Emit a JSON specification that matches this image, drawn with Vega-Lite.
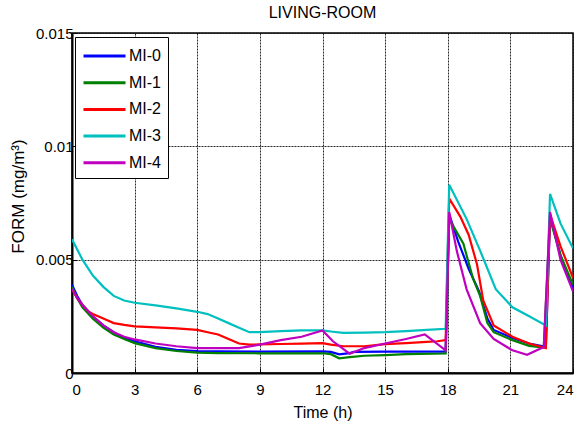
{
  "$schema": "https://vega.github.io/schema/vega-lite/v6.json",
  "width": 501,
  "height": 340,
  "autosize": {"type": "none"},
  "padding": {"left": 72, "top": 33, "right": 7, "bottom": 48},
  "background": "white",
  "title": {"text": "LIVING-ROOM", "fontSize": 16, "fontWeight": "normal", "font": "Liberation Sans", "color": "black", "offset": 5, "anchor": "middle"},
  "config": {
    "view": {"stroke": "black", "strokeWidth": 1.5},
    "font": "Liberation Sans",
    "axis": {"labelFont": "Liberation Sans", "titleFont": "Liberation Sans", "labelColor": "black", "titleColor": "black", "labelFontSize": 15, "titleFontSize": 16, "titleFontWeight": "normal", "domainColor": "black", "domainWidth": 2, "tickColor": "black", "gridColor": "#111", "gridDash": [2, 1], "gridWidth": 1, "gridOpacity": 0.9}
  },
  "data": {"values": [
    {"t":0,"s":"MI-0","v":0.0039},{"t":0.25,"s":"MI-0","v":0.0034},{"t":0.5,"s":"MI-0","v":0.0030},{"t":1,"s":"MI-0","v":0.0025},{"t":1.5,"s":"MI-0","v":0.0021},{"t":2,"s":"MI-0","v":0.0018},{"t":2.5,"s":"MI-0","v":0.00155},{"t":3,"s":"MI-0","v":0.0014},{"t":4,"s":"MI-0","v":0.00115},{"t":5,"s":"MI-0","v":0.00102},{"t":6,"s":"MI-0","v":0.00097},{"t":7,"s":"MI-0","v":0.00095},{"t":9,"s":"MI-0","v":0.00094},{"t":12,"s":"MI-0","v":0.00095},{"t":12.4,"s":"MI-0","v":0.00093},{"t":12.8,"s":"MI-0","v":0.00082},{"t":13.3,"s":"MI-0","v":0.00088},{"t":13.5,"s":"MI-0","v":0.00093},{"t":15,"s":"MI-0","v":0.00094},{"t":17.9,"s":"MI-0","v":0.00094},{"t":18.07,"s":"MI-0","v":0.0070},{"t":18.5,"s":"MI-0","v":0.0058},{"t":19,"s":"MI-0","v":0.0046},{"t":19.5,"s":"MI-0","v":0.0036},{"t":19.9,"s":"MI-0","v":0.0024},{"t":20.2,"s":"MI-0","v":0.0019},{"t":21.1,"s":"MI-0","v":0.00155},{"t":21.9,"s":"MI-0","v":0.0013},{"t":22.7,"s":"MI-0","v":0.00115},{"t":22.9,"s":"MI-0","v":0.0069},{"t":23.4,"s":"MI-0","v":0.0052},{"t":24,"s":"MI-0","v":0.0037},
    {"t":0,"s":"MI-1","v":0.0038},{"t":0.25,"s":"MI-1","v":0.0033},{"t":0.5,"s":"MI-1","v":0.0029},{"t":1,"s":"MI-1","v":0.0024},{"t":1.5,"s":"MI-1","v":0.0020},{"t":2,"s":"MI-1","v":0.0017},{"t":2.5,"s":"MI-1","v":0.0015},{"t":3,"s":"MI-1","v":0.00132},{"t":4,"s":"MI-1","v":0.0011},{"t":5,"s":"MI-1","v":0.00097},{"t":6,"s":"MI-1","v":0.0009},{"t":7,"s":"MI-1","v":0.00088},{"t":9,"s":"MI-1","v":0.00087},{"t":12,"s":"MI-1","v":0.00087},{"t":12.4,"s":"MI-1","v":0.00083},{"t":12.8,"s":"MI-1","v":0.00065},{"t":13.3,"s":"MI-1","v":0.0007},{"t":14,"s":"MI-1","v":0.00076},{"t":15,"s":"MI-1","v":0.00079},{"t":16,"s":"MI-1","v":0.00083},{"t":17.9,"s":"MI-1","v":0.00086},{"t":18.07,"s":"MI-1","v":0.0068},{"t":18.75,"s":"MI-1","v":0.0057},{"t":19.2,"s":"MI-1","v":0.0042},{"t":19.55,"s":"MI-1","v":0.0034},{"t":19.9,"s":"MI-1","v":0.0022},{"t":20.2,"s":"MI-1","v":0.0018},{"t":21.1,"s":"MI-1","v":0.00145},{"t":21.9,"s":"MI-1","v":0.0012},{"t":22.6,"s":"MI-1","v":0.00112},{"t":22.9,"s":"MI-1","v":0.0068},{"t":23.4,"s":"MI-1","v":0.0052},{"t":24,"s":"MI-1","v":0.0039},
    {"t":0,"s":"MI-2","v":0.0037},{"t":0.25,"s":"MI-2","v":0.0033},{"t":0.5,"s":"MI-2","v":0.0030},{"t":0.8,"s":"MI-2","v":0.0027},{"t":1,"s":"MI-2","v":0.0026},{"t":1.5,"s":"MI-2","v":0.0024},{"t":2,"s":"MI-2","v":0.0022},{"t":2.5,"s":"MI-2","v":0.00212},{"t":3,"s":"MI-2","v":0.00206},{"t":4,"s":"MI-2","v":0.00201},{"t":5,"s":"MI-2","v":0.00197},{"t":6,"s":"MI-2","v":0.0019},{"t":6.5,"s":"MI-2","v":0.0018},{"t":7,"s":"MI-2","v":0.0017},{"t":7.5,"s":"MI-2","v":0.0015},{"t":8,"s":"MI-2","v":0.0013},{"t":8.5,"s":"MI-2","v":0.00125},{"t":9,"s":"MI-2","v":0.00126},{"t":10,"s":"MI-2","v":0.00128},{"t":11,"s":"MI-2","v":0.0013},{"t":12,"s":"MI-2","v":0.00132},{"t":12.4,"s":"MI-2","v":0.00125},{"t":13,"s":"MI-2","v":0.00118},{"t":14,"s":"MI-2","v":0.00118},{"t":15,"s":"MI-2","v":0.00127},{"t":16,"s":"MI-2","v":0.00132},{"t":17,"s":"MI-2","v":0.00137},{"t":17.5,"s":"MI-2","v":0.0014},{"t":17.9,"s":"MI-2","v":0.00145},{"t":18.07,"s":"MI-2","v":0.0077},{"t":18.6,"s":"MI-2","v":0.0069},{"t":19,"s":"MI-2","v":0.0061},{"t":19.4,"s":"MI-2","v":0.0048},{"t":19.7,"s":"MI-2","v":0.0032},{"t":20.2,"s":"MI-2","v":0.0021},{"t":21.1,"s":"MI-2","v":0.0016},{"t":21.9,"s":"MI-2","v":0.0013},{"t":22.7,"s":"MI-2","v":0.0011},{"t":22.9,"s":"MI-2","v":0.0070},{"t":23.4,"s":"MI-2","v":0.0056},{"t":24,"s":"MI-2","v":0.0042},
    {"t":0,"s":"MI-3","v":0.0059},{"t":0.5,"s":"MI-3","v":0.0050},{"t":1,"s":"MI-3","v":0.0043},{"t":1.5,"s":"MI-3","v":0.0038},{"t":2,"s":"MI-3","v":0.0034},{"t":2.5,"s":"MI-3","v":0.0032},{"t":3,"s":"MI-3","v":0.0031},{"t":4,"s":"MI-3","v":0.00298},{"t":5,"s":"MI-3","v":0.00285},{"t":6,"s":"MI-3","v":0.0027},{"t":6.5,"s":"MI-3","v":0.0026},{"t":7,"s":"MI-3","v":0.0024},{"t":7.5,"s":"MI-3","v":0.0022},{"t":8,"s":"MI-3","v":0.002},{"t":8.5,"s":"MI-3","v":0.0018},{"t":9,"s":"MI-3","v":0.0018},{"t":10,"s":"MI-3","v":0.00185},{"t":11,"s":"MI-3","v":0.00188},{"t":12,"s":"MI-3","v":0.00188},{"t":12.5,"s":"MI-3","v":0.00182},{"t":13,"s":"MI-3","v":0.00177},{"t":14,"s":"MI-3","v":0.00178},{"t":15,"s":"MI-3","v":0.0018},{"t":16,"s":"MI-3","v":0.00185},{"t":17,"s":"MI-3","v":0.0019},{"t":17.9,"s":"MI-3","v":0.00195},{"t":18.07,"s":"MI-3","v":0.0083},{"t":18.9,"s":"MI-3","v":0.0068},{"t":19.55,"s":"MI-3","v":0.0054},{"t":20.3,"s":"MI-3","v":0.0037},{"t":21.1,"s":"MI-3","v":0.0029},{"t":21.9,"s":"MI-3","v":0.0025},{"t":22.7,"s":"MI-3","v":0.0021},{"t":22.9,"s":"MI-3","v":0.0079},{"t":23.4,"s":"MI-3","v":0.0066},{"t":24,"s":"MI-3","v":0.0055},
    {"t":0,"s":"MI-4","v":0.0037},{"t":0.25,"s":"MI-4","v":0.0033},{"t":0.5,"s":"MI-4","v":0.0030},{"t":1,"s":"MI-4","v":0.0025},{"t":1.5,"s":"MI-4","v":0.0021},{"t":2,"s":"MI-4","v":0.0018},{"t":2.5,"s":"MI-4","v":0.0016},{"t":3,"s":"MI-4","v":0.00148},{"t":4,"s":"MI-4","v":0.0013},{"t":5,"s":"MI-4","v":0.00118},{"t":6,"s":"MI-4","v":0.0011},{"t":7,"s":"MI-4","v":0.0011},{"t":8,"s":"MI-4","v":0.0011},{"t":9,"s":"MI-4","v":0.00125},{"t":10,"s":"MI-4","v":0.00145},{"t":11,"s":"MI-4","v":0.0016},{"t":12,"s":"MI-4","v":0.00188},{"t":12.5,"s":"MI-4","v":0.0014},{"t":13.3,"s":"MI-4","v":0.00085},{"t":14,"s":"MI-4","v":0.0011},{"t":15,"s":"MI-4","v":0.0013},{"t":16,"s":"MI-4","v":0.0015},{"t":16.9,"s":"MI-4","v":0.0017},{"t":17.9,"s":"MI-4","v":0.001},{"t":18.07,"s":"MI-4","v":0.0071},{"t":18.43,"s":"MI-4","v":0.0054},{"t":18.9,"s":"MI-4","v":0.0037},{"t":19.55,"s":"MI-4","v":0.0022},{"t":20.2,"s":"MI-4","v":0.0015},{"t":21.1,"s":"MI-4","v":0.0010},{"t":21.8,"s":"MI-4","v":0.0008},{"t":22.6,"s":"MI-4","v":0.00115},{"t":22.9,"s":"MI-4","v":0.0071},{"t":23.4,"s":"MI-4","v":0.0050},{"t":24,"s":"MI-4","v":0.0036}
  ]},
  "mark": {"type": "line", "strokeWidth": 2.2, "clip": true},
  "encoding": {
    "x": {"field": "t", "type": "quantitative", "title": "Time (h)", "scale": {"domain": [0, 24], "nice": false, "zero": false},
      "axis": {"values": [0, 3, 6, 9, 12, 15, 18, 21, 24], "tickSize": -5, "labelPadding": 14, "titlePadding": 7}},
    "y": {"field": "v", "type": "quantitative", "title": "FORM (mg/m³)", "scale": {"domain": [0, 0.015], "nice": false},
      "axis": {"values": [0, 0.005, 0.01, 0.015], "format": ".3~f", "tickSize": -5, "labelPadding": 4, "titlePadding": 8, "titleFontSize": 17, "titleY": 163}},
    "color": {"field": "s", "type": "nominal", "scale": {"domain": ["MI-0", "MI-1", "MI-2", "MI-3", "MI-4"], "range": ["#0000ff", "#008000", "#ff0000", "#00bfbf", "#bf00bf"]},
      "legend": {"title": null, "orient": "none", "legendX": 3, "legendY": 4, "symbolType": "M-1,0L3,0", "symbolSize": 441, "symbolStrokeWidth": 3, "labelFontSize": 16, "labelFontWeight": "normal", "labelFont": "Liberation Sans", "labelColor": "black", "labelOffset": 23, "strokeColor": "black", "fillColor": "white", "padding": 7, "rowPadding": 6.7}}
  }
}
